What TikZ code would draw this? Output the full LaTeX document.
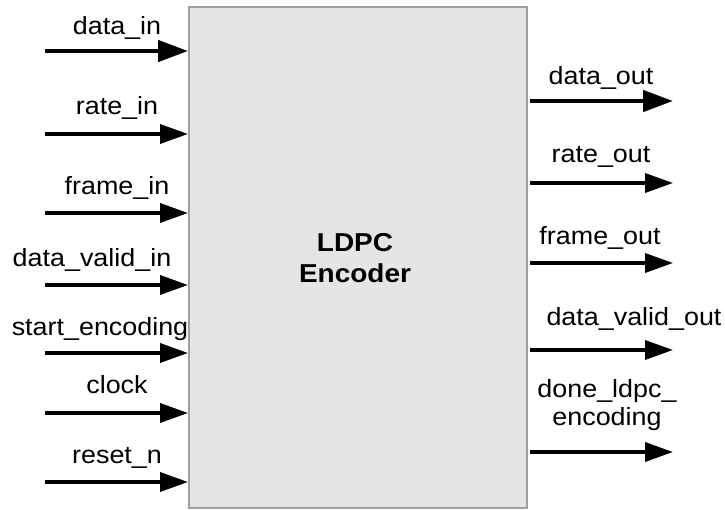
\documentclass[tikz,border=0pt]{standalone}
\usepackage{fontspec}
\setmainfont{Liberation Sans}[FakeStretch=1.08]
\usetikzlibrary{arrows.meta}

\begin{document}
\begin{tikzpicture}[x=1bp,y=-1bp,
    sig/.style={line width=3.6bp,-{Triangle[length=28bp,width=19bp]}},
    bus/.style={sig,line width=4.6bp,-{Triangle[length=30bp,width=21bp]}},
    lbl/.style={anchor=base,inner sep=0pt,font=\fontsize{25}{28}\selectfont}]
    \useasboundingbox (0,0) rectangle (725,510);

    % encoder block
    \node[draw=gray!75,line width=2bp,fill=black!10,minimum width=338bp,minimum height=501bp] (enc) at (358,257.5) {};
    \node[align=center,font=\bfseries\fontsize{26}{31}\selectfont] (enc-l) at (355,258) {LDPC\\Encoder};

    % inputs
    \coordinate (din) at (45,51);
    \coordinate (rin) at (45,134);
    \coordinate (fin) at (45,213);
    \coordinate (dvin) at (45,285);
    \coordinate (start) at (45,353);
    \coordinate (clk) at (45,413);
    \coordinate (rst) at (45,482);

    \draw[bus] (din) -- (din -| enc.west);
    \draw[sig] (rin) -- (rin -| enc.west);
    \draw[sig] (fin) -- (fin -| enc.west);
    \draw[sig] (dvin) -- (dvin -| enc.west);
    \draw[sig] (start) -- (start -| enc.west);
    \draw[sig] (clk) -- (clk -| enc.west);
    \draw[sig] (rst) -- (rst -| enc.west);

    \node[lbl] (din-l) at (117,35) {data\_in};
    \node[lbl] (rin-l) at (117,115) {rate\_in};
    \node[lbl] (fin-l) at (117,195) {frame\_in};
    \node[lbl] (dvin-l) at (92,267) {data\_valid\_in};
    \node[lbl] (start-l) at (100,335) {start\_encoding};
    \node[lbl] (clk-l) at (117,393) {clock};
    \node[lbl] (rst-l) at (117,463) {reset\_n};

    % outputs
    \coordinate (dout) at (673,101);
    \coordinate (rout) at (673,183);
    \coordinate (fout) at (673,263);
    \coordinate (dvout) at (673,350);
    \coordinate (done) at (673,452);

    \draw[bus] ([xshift=2bp]dout -| enc.east) -- (dout);
    \draw[sig] ([xshift=2bp]rout -| enc.east) -- (rout);
    \draw[sig] ([xshift=2bp]fout -| enc.east) -- (fout);
    \draw[sig] ([xshift=2bp]dvout -| enc.east) -- (dvout);
    \draw[sig] ([xshift=2bp]done -| enc.east) -- (done);

    \node[lbl] (dout-l) at (601,85) {data\_out};
    \node[lbl] (rout-l) at (601,163) {rate\_out};
    \node[lbl] (fout-l) at (600,245) {frame\_out};
    \node[lbl] (dvout-l) at (634,325) {data\_valid\_out};
    \node[lbl,align=center,anchor=north] (done-l) at (607,379) {done\_ldpc\_\\encoding};
\end{tikzpicture}
\end{document}
